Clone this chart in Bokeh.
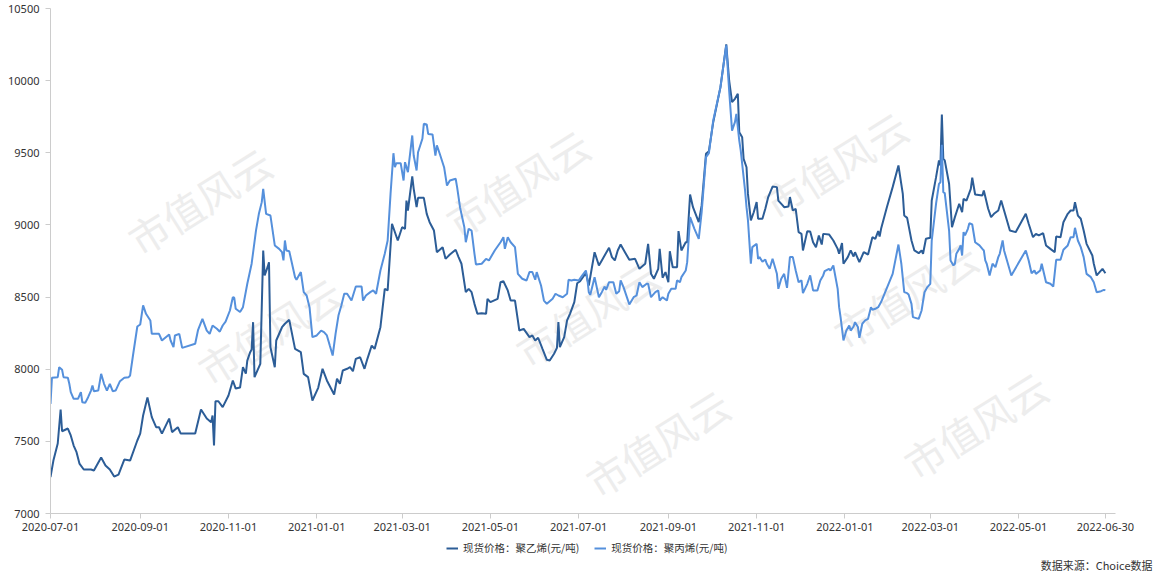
import pandas as pd
from bokeh.plotting import figure
from bokeh.layouts import column
from bokeh.models import Range1d, FixedTicker, DatetimeTickFormatter, Legend, LegendItem, Label, Title
from bokeh.embed import file_html
from bokeh.resources import INLINE

pe_dates = [
    "2020-07-01", "2020-07-03", "2020-07-06", "2020-07-08", "2020-07-09", "2020-07-13", "2020-07-15", "2020-07-17",
    "2020-07-19", "2020-07-21", "2020-07-24", "2020-07-29", "2020-07-31", "2020-08-05", "2020-08-08", "2020-08-11",
    "2020-08-14", "2020-08-17", "2020-08-21", "2020-08-25", "2020-08-30", "2020-09-01", "2020-09-03", "2020-09-06",
    "2020-09-09", "2020-09-12", "2020-09-14", "2020-09-16", "2020-09-21", "2020-09-23", "2020-09-27", "2020-09-29",
    "2020-10-09", "2020-10-13", "2020-10-17", "2020-10-20", "2020-10-21", "2020-10-22", "2020-10-23", "2020-10-25",
    "2020-10-28", "2020-11-01", "2020-11-04", "2020-11-06", "2020-11-09", "2020-11-11", "2020-11-13", "2020-11-14",
    "2020-11-16", "2020-11-17", "2020-11-18", "2020-11-19", "2020-11-23", "2020-11-25", "2020-11-26", "2020-11-28",
    "2020-11-29", "2020-11-30", "2020-12-03", "2020-12-04", "2020-12-08", "2020-12-10", "2020-12-13", "2020-12-17",
    "2020-12-21", "2020-12-23", "2020-12-26", "2020-12-29", "2021-01-02", "2021-01-05", "2021-01-08", "2021-01-13",
    "2021-01-15", "2021-01-17", "2021-01-19", "2021-01-22", "2021-01-24", "2021-01-26", "2021-01-28", "2021-01-31",
    "2021-02-03", "2021-02-05", "2021-02-08", "2021-02-10", "2021-02-14", "2021-02-17", "2021-02-19", "2021-02-22",
    "2021-02-26", "2021-03-01", "2021-03-03", "2021-03-04", "2021-03-05", "2021-03-08", "2021-03-09", "2021-03-11",
    "2021-03-12", "2021-03-16", "2021-03-18", "2021-03-20", "2021-03-23", "2021-03-25", "2021-03-29", "2021-03-31",
    "2021-04-03", "2021-04-07", "2021-04-09", "2021-04-11", "2021-04-14", "2021-04-16", "2021-04-18", "2021-04-20",
    "2021-04-22", "2021-04-25", "2021-04-28", "2021-04-29", "2021-05-01", "2021-05-06", "2021-05-08", "2021-05-10",
    "2021-05-13", "2021-05-15", "2021-05-18", "2021-05-20", "2021-05-21", "2021-05-24", "2021-05-28", "2021-05-30",
    "2021-06-01", "2021-06-03", "2021-06-06", "2021-06-09", "2021-06-11", "2021-06-14", "2021-06-16", "2021-06-17",
    "2021-06-18", "2021-06-21", "2021-06-23", "2021-06-25", "2021-06-28", "2021-06-30", "2021-07-02", "2021-07-06",
    "2021-07-08", "2021-07-12", "2021-07-15", "2021-07-17", "2021-07-22", "2021-07-24", "2021-07-26", "2021-07-28",
    "2021-07-30", "2021-08-02", "2021-08-05", "2021-08-09", "2021-08-12", "2021-08-16", "2021-08-18", "2021-08-20",
    "2021-08-22", "2021-08-25", "2021-08-26", "2021-08-28", "2021-08-30", "2021-09-01", "2021-09-02", "2021-09-04",
    "2021-09-07", "2021-09-08", "2021-09-10", "2021-09-13", "2021-09-14", "2021-09-16", "2021-09-18", "2021-09-22",
    "2021-09-24", "2021-09-27", "2021-09-29", "2021-10-02", "2021-10-07", "2021-10-11", "2021-10-13", "2021-10-15",
    "2021-10-17", "2021-10-19", "2021-10-20", "2021-10-22", "2021-10-23", "2021-10-25", "2021-10-26", "2021-10-28",
    "2021-10-30", "2021-11-01", "2021-11-02", "2021-11-05", "2021-11-07", "2021-11-09", "2021-11-12", "2021-11-15",
    "2021-11-16", "2021-11-19", "2021-11-20", "2021-11-23", "2021-11-24", "2021-11-26", "2021-11-28", "2021-11-30",
    "2021-12-02", "2021-12-03", "2021-12-06", "2021-12-08", "2021-12-10", "2021-12-12", "2021-12-14", "2021-12-16",
    "2021-12-17", "2021-12-21", "2021-12-24", "2021-12-27", "2021-12-28", "2021-12-30", "2021-12-31", "2022-01-03",
    "2022-01-05", "2022-01-07", "2022-01-08", "2022-01-11", "2022-01-14", "2022-01-17", "2022-01-20", "2022-01-22",
    "2022-01-24", "2022-01-25", "2022-01-26", "2022-01-30", "2022-02-03", "2022-02-07", "2022-02-10", "2022-02-11",
    "2022-02-13", "2022-02-16", "2022-02-18", "2022-02-21", "2022-02-23", "2022-02-24", "2022-02-26", "2022-03-01",
    "2022-03-02", "2022-03-05", "2022-03-07", "2022-03-08", "2022-03-09", "2022-03-10", "2022-03-11", "2022-03-14",
    "2022-03-16", "2022-03-18", "2022-03-21", "2022-03-23", "2022-03-24", "2022-03-26", "2022-03-29", "2022-03-30",
    "2022-04-01", "2022-04-06", "2022-04-07", "2022-04-10", "2022-04-12", "2022-04-14", "2022-04-17", "2022-04-19",
    "2022-04-21", "2022-04-25", "2022-04-29", "2022-05-06", "2022-05-08", "2022-05-11", "2022-05-13", "2022-05-15",
    "2022-05-18", "2022-05-20", "2022-05-23", "2022-05-26", "2022-05-27", "2022-05-30", "2022-06-01", "2022-06-04",
    "2022-06-06", "2022-06-08", "2022-06-09", "2022-06-11", "2022-06-13", "2022-06-15", "2022-06-17", "2022-06-21",
    "2022-06-22", "2022-06-24", "2022-06-26", "2022-06-28", "2022-06-30",
]
pe_values = [
    7252, 7367, 7485, 7721, 7570, 7589, 7541, 7471, 7425, 7346, 7305, 7305, 7298, 7388, 7333, 7305,
    7256, 7270, 7374, 7367, 7506, 7554, 7679, 7804, 7668, 7598, 7598, 7554, 7658, 7564, 7598, 7554,
    7554, 7721, 7658, 7633, 7679, 7471, 7778, 7778, 7737, 7818, 7922, 7866, 7873, 8014, 7970, 8060,
    8118, 8137, 8326, 7945, 8037, 8823, 8650, 8707, 8742, 8152, 8014, 8199, 8291, 8315, 8342, 8141,
    8118, 7968, 7945, 7783, 7871, 8003, 7922, 7825, 7934, 7899, 7991, 8003, 8014, 7986, 8072, 8083,
    8003, 8072, 8164, 8141, 8291, 8557, 8546, 9008, 8892, 8984, 8973, 9169, 9100, 9336, 9250, 9123,
    9188, 9188, 9077, 9019, 8961, 8811, 8846, 8765, 8795, 8828, 8777, 8731, 8534, 8557, 8534, 8453,
    8384, 8388, 8384, 8488, 8465, 8488, 8603, 8610, 8546, 8476, 8476, 8338, 8268, 8280, 8222, 8234,
    8199, 8218, 8141, 8065, 8060, 8107, 8148, 8326, 8153, 8222, 8338, 8384, 8465, 8596, 8610, 8667,
    8580, 8811, 8719, 8754, 8842, 8777, 8754, 8823, 8864, 8811, 8758, 8765, 8696, 8731, 8869, 8661,
    8627, 8696, 8834, 8634, 8673, 8603, 8818, 8707, 8707, 8957, 8823, 8880, 8880, 9211, 9123, 9019,
    9135, 9493, 9511, 9712, 9955, 10251, 10001, 9851, 9874, 9909, 9643, 9608, 9458, 9400, 9215, 9031,
    9088, 9158, 9043, 9043, 9112, 9193, 9266, 9262, 9169, 9135, 9123, 9128, 9193, 9100, 9112, 8950,
    8938, 8823, 8957, 8955, 8880, 8846, 8927, 8864, 8938, 8934, 8892, 8834, 8800, 8874, 8731, 8777,
    8823, 8781, 8811, 8742, 8811, 8795, 8915, 8904, 8957, 8920, 8973, 9123, 9262, 9412, 9215, 9065,
    9049, 8892, 8823, 8804, 8823, 8800, 8904, 8911, 9169, 9331, 9447, 9412, 9765, 9458, 9447, 9285,
    8984, 9054, 9147, 9088, 9181, 9169, 9250, 9327, 9211, 9204, 9239, 9112, 9054, 9077, 9100, 9169,
    9100, 8961, 8950, 9077, 9008, 8915, 8938, 8927, 8943, 8858, 8834, 8811, 8920, 8915, 9019, 9077,
    9100, 9100, 9158, 9065, 9043, 8961, 8869, 8788, 8731, 8650, 8673, 8696, 8665,
]

pp_dates = [
    "2020-07-01", "2020-07-02", "2020-07-06", "2020-07-07", "2020-07-09", "2020-07-10", "2020-07-13", "2020-07-14",
    "2020-07-15", "2020-07-17", "2020-07-20", "2020-07-22", "2020-07-23", "2020-07-25", "2020-07-27", "2020-07-29",
    "2020-07-30", "2020-07-31", "2020-08-03", "2020-08-05", "2020-08-07", "2020-08-09", "2020-08-11", "2020-08-13",
    "2020-08-15", "2020-08-18", "2020-08-21", "2020-08-24", "2020-08-25", "2020-08-27", "2020-08-30", "2020-09-01",
    "2020-09-03", "2020-09-05", "2020-09-08", "2020-09-09", "2020-09-14", "2020-09-16", "2020-09-21", "2020-09-22",
    "2020-09-24", "2020-09-25", "2020-09-28", "2020-09-30", "2020-10-09", "2020-10-11", "2020-10-14", "2020-10-17",
    "2020-10-19", "2020-10-21", "2020-10-24", "2020-10-26", "2020-10-28", "2020-10-30", "2020-11-02", "2020-11-04",
    "2020-11-05", "2020-11-06", "2020-11-09", "2020-11-11", "2020-11-14", "2020-11-17", "2020-11-20", "2020-11-22",
    "2020-11-24", "2020-11-25", "2020-11-27", "2020-11-30", "2020-12-03", "2020-12-06", "2020-12-08", "2020-12-09",
    "2020-12-10", "2020-12-11", "2020-12-13", "2020-12-17", "2020-12-18", "2020-12-21", "2020-12-23", "2020-12-25",
    "2020-12-27", "2020-12-29", "2021-01-01", "2021-01-04", "2021-01-06", "2021-01-08", "2021-01-10", "2021-01-12",
    "2021-01-14", "2021-01-16", "2021-01-18", "2021-01-20", "2021-01-22", "2021-01-25", "2021-01-28", "2021-02-01",
    "2021-02-02", "2021-02-04", "2021-02-07", "2021-02-09", "2021-02-11", "2021-02-14", "2021-02-17", "2021-02-19",
    "2021-02-21", "2021-02-23", "2021-02-24", "2021-02-25", "2021-02-28", "2021-03-02", "2021-03-03", "2021-03-05",
    "2021-03-08", "2021-03-09", "2021-03-11", "2021-03-12", "2021-03-15", "2021-03-16", "2021-03-18", "2021-03-19",
    "2021-03-22", "2021-03-24", "2021-03-25", "2021-03-27", "2021-03-30", "2021-04-01", "2021-04-03", "2021-04-07",
    "2021-04-08", "2021-04-10", "2021-04-13", "2021-04-14", "2021-04-16", "2021-04-18", "2021-04-20", "2021-04-21",
    "2021-04-25", "2021-04-28", "2021-04-30", "2021-05-04", "2021-05-08", "2021-05-10", "2021-05-11", "2021-05-13",
    "2021-05-15", "2021-05-18", "2021-05-20", "2021-05-23", "2021-05-26", "2021-05-28", "2021-05-30", "2021-06-01",
    "2021-06-02", "2021-06-05", "2021-06-07", "2021-06-09", "2021-06-13", "2021-06-15", "2021-06-17", "2021-06-20",
    "2021-06-23", "2021-06-24", "2021-06-26", "2021-06-28", "2021-07-01", "2021-07-03", "2021-07-06", "2021-07-07",
    "2021-07-08", "2021-07-09", "2021-07-12", "2021-07-15", "2021-07-17", "2021-07-19", "2021-07-20", "2021-07-22",
    "2021-07-25", "2021-07-27", "2021-07-29", "2021-07-30", "2021-08-01", "2021-08-05", "2021-08-08", "2021-08-10",
    "2021-08-12", "2021-08-14", "2021-08-17", "2021-08-18", "2021-08-20", "2021-08-23", "2021-08-25", "2021-08-26",
    "2021-08-28", "2021-08-31", "2021-09-01", "2021-09-03", "2021-09-06", "2021-09-07", "2021-09-09", "2021-09-10",
    "2021-09-13", "2021-09-14", "2021-09-16", "2021-09-19", "2021-09-22", "2021-09-24", "2021-09-27", "2021-09-29",
    "2021-10-02", "2021-10-07", "2021-10-11", "2021-10-13", "2021-10-15", "2021-10-17", "2021-10-18", "2021-10-20",
    "2021-10-21", "2021-10-23", "2021-10-24", "2021-10-25", "2021-10-26", "2021-10-28", "2021-10-29", "2021-11-01",
    "2021-11-02", "2021-11-03", "2021-11-05", "2021-11-07", "2021-11-08", "2021-11-10", "2021-11-12", "2021-11-13",
    "2021-11-15", "2021-11-16", "2021-11-18", "2021-11-20", "2021-11-22", "2021-11-24", "2021-11-26", "2021-11-28",
    "2021-11-30", "2021-12-02", "2021-12-03", "2021-12-06", "2021-12-08", "2021-12-10", "2021-12-13", "2021-12-15",
    "2021-12-17", "2021-12-18", "2021-12-21", "2021-12-22", "2021-12-24", "2021-12-27", "2021-12-28", "2021-12-29",
    "2021-12-31", "2022-01-02", "2022-01-04", "2022-01-05", "2022-01-07", "2022-01-08", "2022-01-10", "2022-01-11",
    "2022-01-13", "2022-01-15", "2022-01-17", "2022-01-19", "2022-01-20", "2022-01-22", "2022-01-24", "2022-01-26",
    "2022-02-03", "2022-02-07", "2022-02-09", "2022-02-11", "2022-02-13", "2022-02-14", "2022-02-16", "2022-02-17",
    "2022-02-21", "2022-02-23", "2022-02-25", "2022-02-27", "2022-03-01", "2022-03-02", "2022-03-05", "2022-03-07",
    "2022-03-08", "2022-03-09", "2022-03-10", "2022-03-11", "2022-03-14", "2022-03-15", "2022-03-17", "2022-03-18",
    "2022-03-19", "2022-03-21", "2022-03-22", "2022-03-23", "2022-03-24", "2022-03-25", "2022-03-27", "2022-03-28",
    "2022-03-30", "2022-04-01", "2022-04-04", "2022-04-06", "2022-04-07", "2022-04-08", "2022-04-09", "2022-04-11",
    "2022-04-13", "2022-04-15", "2022-04-17", "2022-04-18", "2022-04-20", "2022-04-21", "2022-04-23", "2022-04-26",
    "2022-05-06", "2022-05-08", "2022-05-10", "2022-05-12", "2022-05-13", "2022-05-16", "2022-05-17", "2022-05-20",
    "2022-05-23", "2022-05-25", "2022-05-27", "2022-05-30", "2022-06-01", "2022-06-04", "2022-06-06", "2022-06-08",
    "2022-06-09", "2022-06-11", "2022-06-13", "2022-06-15", "2022-06-17", "2022-06-20", "2022-06-22", "2022-06-24",
    "2022-06-27", "2022-06-29", "2022-06-30",
]
pp_values = [
    7760, 7941, 7945, 8014, 7996, 7945, 7941, 7899, 7841, 7795, 7795, 7841, 7771, 7767, 7806, 7852,
    7887, 7848, 7852, 7968, 7899, 7852, 7899, 7848, 7852, 7917, 7941, 7945, 7956, 8095, 8296, 8310,
    8442, 8384, 8338, 8245, 8245, 8199, 8241, 8199, 8153, 8234, 8245, 8148, 8176, 8273, 8349, 8268,
    8245, 8303, 8280, 8260, 8303, 8330, 8407, 8499, 8495, 8419, 8396, 8430, 8592, 8731, 8961, 9077,
    9158, 9250, 9077, 9065, 8858, 8834, 8811, 8754, 8892, 8823, 8818, 8638, 8620, 8673, 8534, 8511,
    8430, 8222, 8234, 8268, 8257, 8234, 8164, 8095, 8245, 8372, 8442, 8523, 8523, 8476, 8573, 8573,
    8476, 8511, 8534, 8546, 8523, 8684, 8800, 8892, 9215, 9497, 9400, 9428, 9428, 9308, 9435, 9366,
    9620, 9481, 9377, 9504, 9597, 9701, 9696, 9631, 9627, 9481, 9551, 9493, 9400, 9273, 9308, 9320,
    9262, 9123, 8984, 8880, 8973, 8961, 8800, 8726, 8731, 8765, 8754, 8823, 8880, 8915, 8834, 8915,
    8880, 8846, 8661, 8627, 8615, 8673, 8673, 8620, 8673, 8580, 8476, 8453, 8488, 8523, 8511, 8499,
    8523, 8620, 8615, 8620, 8615, 8643, 8684, 8627, 8534, 8515, 8638, 8499, 8534, 8573, 8550, 8603,
    8603, 8523, 8541, 8615, 8569, 8449, 8499, 8511, 8603, 8569, 8592, 8592, 8499, 8534, 8546, 8476,
    8499, 8476, 8523, 8557, 8557, 8615, 8603, 8638, 8684, 8742, 9054, 8973, 8904, 9088, 9470, 9497,
    9724, 9955, 10244, 9931, 9654, 9712, 9770, 9585, 9516, 9331, 9239, 9123, 9031, 8731, 8846, 8869,
    8765, 8777, 8745, 8760, 8731, 8696, 8765, 8731, 8661, 8557, 8627, 8661, 8564, 8777, 8777, 8684,
    8603, 8615, 8527, 8592, 8650, 8546, 8546, 8615, 8650, 8680, 8696, 8684, 8719, 8557, 8430, 8361,
    8199, 8268, 8303, 8268, 8296, 8326, 8292, 8218, 8315, 8338, 8349, 8430, 8412, 8419, 8430, 8465,
    8661, 8864, 8731, 8534, 8527, 8518, 8453, 8361, 8349, 8407, 8534, 8569, 8592, 8892, 9147, 9285,
    9296, 9556, 9227, 9220, 8961, 8754, 8719, 8731, 8800, 8834, 8858, 8788, 8950, 8927, 8973, 9012,
    9003, 8880, 8858, 8834, 8823, 8754, 8731, 8650, 8731, 8707, 8777, 8800, 8892, 8823, 8754, 8650,
    8823, 8754, 8665, 8684, 8661, 8684, 8731, 8603, 8592, 8573, 8758, 8758, 8828, 8858, 8915, 8915,
    8980, 8892, 8846, 8777, 8661, 8638, 8603, 8534, 8541, 8550, 8546,
]

x_tick_labels = ["2020-07-01", "2020-09-01", "2020-11-01", "2021-01-01", "2021-03-01", "2021-05-01",
                 "2021-07-01", "2021-09-01", "2021-11-01", "2022-01-01", "2022-03-01", "2022-05-01",
                 "2022-06-30"]
y_ticks = [7000, 7500, 8000, 8500, 9000, 9500, 10000, 10500]
series_names = ["现货价格：聚乙烯(元/吨)", "现货价格：聚丙烯(元/吨)"]
series_colors = ["#2c5d97", "#5590dc"]
source_note = "数据来源：Choice数据"
watermark_text = "市值风云"

NUM_FONT = "Noto Sans"
CJK_FONT = "Noto Sans CJK SC"

# ---------------- main chart: plot area x 50..1115, y 8..513 ----------------
p = figure(width=1154, height=540, x_axis_type="datetime", output_backend="svg", toolbar_location=None,
           x_range=Range1d(pd.Timestamp("2020-07-01"), pd.Timestamp("2022-07-07")),
           y_range=Range1d(7000, 10500),
           min_border_left=50, min_border_right=39, min_border_top=8, min_border_bottom=27)
p.outline_line_color = None
p.grid.visible = False
p.background_fill_color = "white"
p.border_fill_color = "white"

# faint watermark tiling (frame-relative screen coordinates); only marks that fit inside the plot area
frame_left, frame_top, frame_right, frame_bottom = 50, 8, 1115, 513
for r in range(-1, 5):
    for c in range(-1, 4):
        cx = 129 + 318 * c + 70 * r
        cy = 70 - 18 * c + 130 * r
        if cx - 80 > frame_left and cx + 80 < frame_right and cy - 58 > frame_top - 14 and cy + 58 < frame_bottom:
            p.add_layout(Label(x=cx - frame_left, y=frame_bottom - cy, x_units="screen", y_units="screen",
                               text=watermark_text, angle=0.56, text_align="center", text_baseline="middle",
                               text_font=CJK_FONT, text_font_size="40px", text_color="#ededed",
                               level="underlay"))

pe_x = pd.to_datetime(pe_dates)
pp_x = pd.to_datetime(pp_dates)
p.line(pe_x, pe_values, line_color=series_colors[0], line_width=2)
p.line(pp_x, pp_values, line_color=series_colors[1], line_width=2)

tick_ms = [int(t.value // 10**6) for t in pd.to_datetime(x_tick_labels)]
p.xaxis.ticker = FixedTicker(ticks=tick_ms)
fmt = "%Y-%m-%d"
p.xaxis.formatter = DatetimeTickFormatter(milliseconds=fmt, seconds=fmt, minsec=fmt, minutes=fmt, hourmin=fmt,
                                          hours=fmt, days=fmt, months=fmt, years=fmt)
p.yaxis.ticker = FixedTicker(ticks=y_ticks)
for ax in (p.xaxis[0], p.yaxis[0]):
    ax.axis_line_color = "#cccccc"
    ax.axis_line_width = 1
    ax.major_tick_line_color = "#cccccc"
    ax.major_tick_in = 0
    ax.major_tick_out = 5
    ax.minor_tick_line_color = None
    ax.major_label_text_font = NUM_FONT
    ax.major_label_text_font_size = "11px"
    ax.major_label_text_color = "#333333"
p.yaxis.major_label_standoff = 6
p.xaxis.major_label_standoff = 4

# ---------------- footer (frame is aligned with the chart: x 50..1115) ----------------
f = figure(width=1154, height=41, output_backend="svg", toolbar_location=None,
           x_range=Range1d(0, 1), y_range=Range1d(0, 1),
           x_axis_location=None, y_axis_location=None,
           min_border_left=50, min_border_right=39, min_border_top=0, min_border_bottom=25)
f.outline_line_color = None
f.grid.visible = False
f.background_fill_color = "white"
f.border_fill_color = "white"
nan = float("nan")
k_pe = f.line(x=[nan], y=[nan], line_color=series_colors[0], line_width=2)
k_pp = f.line(x=[nan], y=[nan], line_color=series_colors[1], line_width=2)
legend = Legend(items=[LegendItem(label=series_names[0], renderers=[k_pe]),
                       LegendItem(label=series_names[1], renderers=[k_pp])],
                orientation="horizontal", location=(396, 1),
                glyph_width=12, glyph_height=12, label_standoff=5, spacing=15,
                padding=0, margin=0, border_line_color=None, background_fill_alpha=0,
                label_text_font=CJK_FONT, label_text_font_size="10.5px", label_text_color="#333333",
                label_height=12)
f.add_layout(legend, "center")
f.add_layout(Title(text=source_note, align="right", offset=-37, standoff=0, vertical_align="top",
                   text_font=CJK_FONT, text_font_size="11px", text_font_style="normal",
                   text_color="#333333"), "below")

layout = column(p, f, spacing=0)
open("out.html", "w").write(file_html(layout, INLINE))
